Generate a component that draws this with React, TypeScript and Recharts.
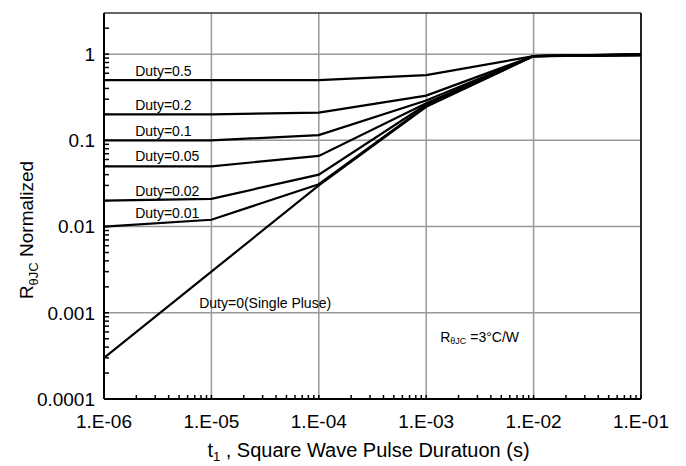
import React from "react";
import {
  LineChart,
  Line,
  XAxis,
  YAxis,
  CartesianGrid,
  ReferenceLine,
  ReferenceDot,
} from "recharts";

// pulse duration (s)
const PULSE = [1e-6, 1e-5, 1e-4, 1e-3, 1e-2, 1e-1];

// normalized thermal impedance per duty cycle
const DUTY_05 = [0.5, 0.5, 0.5, 0.57, 0.95, 1.0];
const DUTY_02 = [0.2, 0.2, 0.21, 0.33, 0.95, 0.995];
const DUTY_01 = [0.1, 0.1, 0.115, 0.29, 0.95, 0.99];
const DUTY_005 = [0.05, 0.05, 0.066, 0.27, 0.95, 0.985];
const DUTY_002 = [0.02, 0.021, 0.04, 0.26, 0.95, 0.98];
const DUTY_001 = [0.01, 0.012, 0.031, 0.25, 0.95, 0.975];
const SINGLE = [0.0003, 0.003, 0.03, 0.245, 0.95, 0.97];

const X_TICKS = [1e-6, 1e-5, 1e-4, 1e-3, 1e-2, 1e-1];
const X_LABELS = ["1.E-06", "1.E-05", "1.E-04", "1.E-03", "1.E-02", "1.E-01"];
const Y_TICKS = [1e-4, 1e-3, 1e-2, 1e-1, 1];
const Y_LABELS = ["0.0001", "0.001", "0.01", "0.1", "1"];

const MANTISSA = [2, 3, 4, 5, 6, 7, 8, 9];
const X_MINOR = [1e-6, 1e-5, 1e-4, 1e-3, 1e-2].flatMap((d) => MANTISSA.map((m) => m * d));
const Y_MINOR = [1e-4, 1e-3, 1e-2, 1e-1].flatMap((d) => MANTISSA.map((m) => m * d)).concat([2]);

// curve labels (left edge x, vertical centre y)
const LABEL_TEXT = [
  "Duty=0.5",
  "Duty=0.2",
  "Duty=0.1",
  "Duty=0.05",
  "Duty=0.02",
  "Duty=0.01",
  "Duty=0(Single Pluse)",
];
const LABEL_T = [1.95e-6, 1.95e-6, 1.95e-6, 1.95e-6, 1.95e-6, 1.95e-6, 7.7e-6];
const LABEL_R = [0.634, 0.255, 0.127, 0.065, 0.0262, 0.01455, 0.0013];

const KEYS = ["d05", "d02", "d01", "d005", "d002", "d001", "single"];
const SERIES = [DUTY_05, DUTY_02, DUTY_01, DUTY_005, DUTY_002, DUTY_001, SINGLE];

const data = PULSE.map((t, i) => {
  const row: Record<string, number> = { t };
  KEYS.forEach((k, j) => (row[k] = SERIES[j][i]));
  return row;
});

const FONT = "'Liberation Sans', Arial, sans-serif";

// inward tick marks, labels only on decades
const XTick = (props: any) => {
  const { x, y, payload } = props;
  const idx = X_TICKS.indexOf(payload.value);
  return (
    <g>
      <line x1={x} x2={x} y1={y} y2={y - 4} stroke="#000" strokeWidth={1.5} />
      {idx >= 0 && (
        <text x={x} y={y + 16} dy="0.71em" textAnchor="middle" fontSize={19} fontFamily={FONT} fill="#000">
          {X_LABELS[idx]}
        </text>
      )}
    </g>
  );
};

const YTick = (props: any) => {
  const { x, y, payload } = props;
  const idx = Y_TICKS.indexOf(payload.value);
  return (
    <g>
      <line x1={x} x2={x + 5} y1={y} y2={y} stroke="#000" strokeWidth={1.5} />
      {idx >= 0 && (
        <text x={x - 9} y={y} dy="0.36em" textAnchor="end" fontSize={19} fontFamily={FONT} fill="#000">
          {Y_LABELS[idx]}
        </text>
      )}
    </g>
  );
};

const XTitle = ({ viewBox }: any) => {
  const x = viewBox.x + viewBox.width / 2 - 4;
  return (
    <text x={x} y={457} textAnchor="middle" fontSize={20} fontFamily={FONT} fill="#000">
      t
      <tspan fontSize={13} dy={4}>1</tspan>
      <tspan dy={-4}> , Square Wave Pulse Duratuon (s)</tspan>
    </text>
  );
};

const YTitle = () => {
  const cx = 33;
  const cy = 230;
  return (
    <text
      x={cx}
      y={cy}
      transform={`rotate(-90 ${cx} ${cy})`}
      textAnchor="middle"
      fontSize={19}
      fontFamily={FONT}
      fill="#000"
    >
      R
      <tspan fontSize={13} dy={5}>θJC</tspan>
      <tspan dy={-5}> Normalized</tspan>
    </text>
  );
};

const CurveLabel = (text: string) => (props: any) => {
  const { viewBox } = props;
  return (
    <text x={viewBox.x} y={viewBox.y} dy={5} fontSize={14} fontFamily={FONT} fill="#000">
      {text}
    </text>
  );
};

const RthLabel = (props: any) => {
  const { viewBox } = props;
  return (
    <text x={viewBox.x} y={viewBox.y} dy={5} fontSize={14} fontFamily={FONT} fill="#000">
      R
      <tspan fontSize={9} dy={2}>θJC</tspan>
      <tspan dy={-2}> =3°C/W</tspan>
    </text>
  );
};

export default function App() {
  return (
    <div style={{ position: "fixed", left: 0, top: 0, background: "#fff" }}>
      <LineChart
        width={686}
        height={466}
        data={data}
        margin={{ top: 13, right: 45, left: 0, bottom: 7 }}
      >
        <CartesianGrid
          stroke="#999"
          strokeWidth={1.5}
          horizontalValues={Y_TICKS}
          verticalValues={X_TICKS}
        />
        <XAxis
          dataKey="t"
          type="number"
          scale="log"
          domain={[1e-6, 1e-1]}
          allowDataOverflow
          ticks={X_TICKS.concat(X_MINOR)}
          interval={0}
          tick={<XTick />}
          tickLine={false}
          tickSize={0}
          tickMargin={0}
          axisLine={{ stroke: "#000", strokeWidth: 2 }}
          height={60}
          label={{ content: XTitle }}
        />
        <YAxis
          type="number"
          scale="log"
          domain={[1e-4, 3]}
          allowDataOverflow
          ticks={Y_TICKS.concat(Y_MINOR)}
          interval={0}
          tick={<YTick />}
          tickLine={false}
          tickSize={0}
          tickMargin={0}
          axisLine={{ stroke: "#000", strokeWidth: 2 }}
          width={104}
          label={{ content: YTitle }}
        />
        <ReferenceLine y={3} stroke="#333" strokeWidth={1.5} />
        <ReferenceLine x={1e-1} stroke="#222" strokeWidth={2} />
        {KEYS.map((k) => (
          <Line
            key={k}
            dataKey={k}
            type="linear"
            stroke="#000"
            strokeWidth={2.2}
            dot={false}
            isAnimationActive={false}
          />
        ))}
        {LABEL_TEXT.map((txt, i) => (
          <ReferenceDot
            key={txt}
            x={LABEL_T[i]}
            y={LABEL_R[i]}
            r={0}
            stroke="none"
            fill="none"
            label={{ content: CurveLabel(txt) }}
          />
        ))}
        <ReferenceDot
          x={1.35e-3}
          y={0.00053}
          r={0}
          stroke="none"
          fill="none"
          label={{ content: RthLabel }}
        />
      </LineChart>
    </div>
  );
}
